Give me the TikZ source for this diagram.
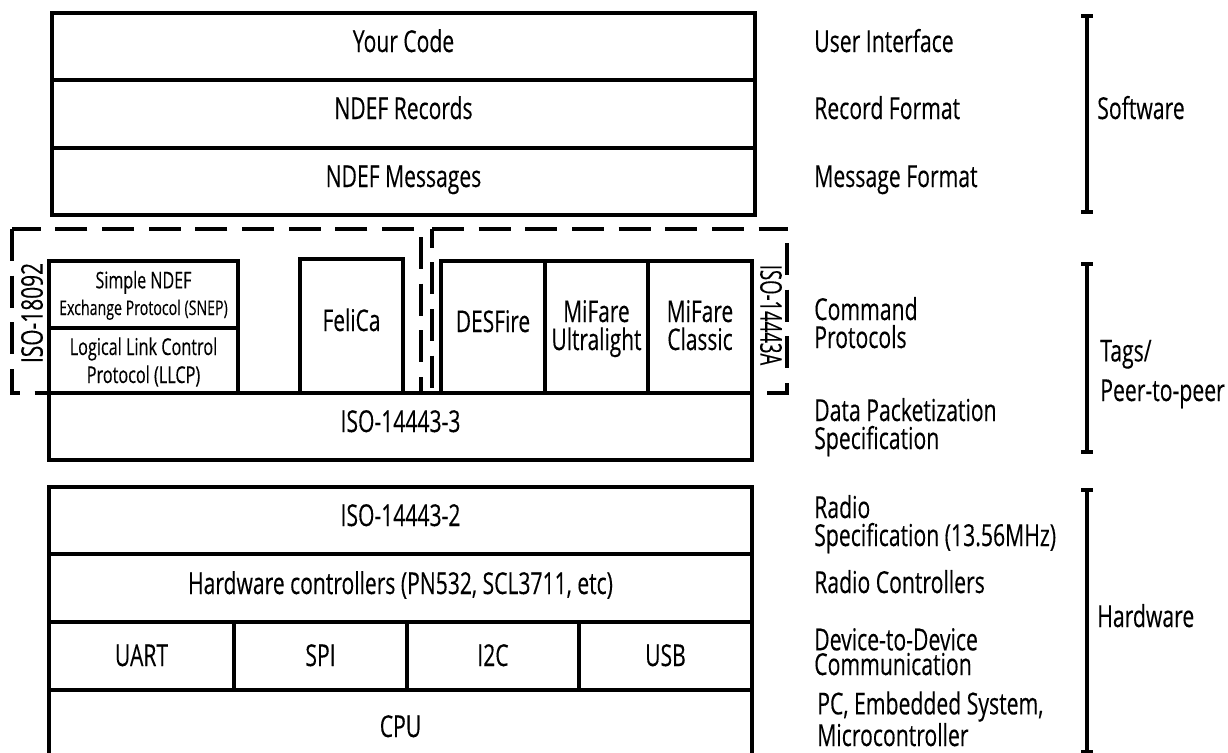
\documentclass[tikz,border=0pt]{standalone}
\usepackage{fontspec}
\setmainfont[FakeStretch=0.70,FakeBold=0.25]{Open Sans}
\newfontfamily\narrowfam[FakeStretch=0.62,FakeBold=0.25]{Open Sans}
\newcommand{\bigfs}{\fontsize{22.6}{21}\selectfont}
\newcommand{\midfs}{\fontsize{22.4}{21}\selectfont}
\newcommand{\sidefs}{\fontsize{22.7}{21}\selectfont}
\newcommand{\fsz}[1]{\fontsize{#1}{20}\selectfont}
\tikzset{
  x=0.75pt, y=-0.75pt,
  boxstyle/.style={draw=black, line width=2.3pt, fill=white, inner sep=0pt, align=center, font=\bigfs},
  sidelabel/.style={anchor=base west, inner sep=0pt, align=left, font=\sidefs},
  dashline/.style={line width=2.5pt, dash pattern=on 24pt off 11pt},
  brack/.style={line width=2.3pt}
}
% name, x1, y1, x2, y2, baseline of last text line, options, text
\newcommand{\bx}[8]{%
  \pgfmathsetmacro{\bw}{(#4-#2)*0.75}%
  \pgfmathsetmacro{\bh}{(#5-#3)*0.75}%
  \pgfmathsetmacro{\bt}{(#6-(#3+#5)/2)*1.5}%
  \node[boxstyle, minimum width=\bw pt, minimum height=\bh pt, text height=\bt pt, text depth=0pt, #7] (#1) at ({(#2+#4)/2},{(#3+#5)/2}) {#8};}
\begin{document}
\begin{tikzpicture}
\useasboundingbox (0,0) rectangle (1228,753);
\clip (0,0) rectangle (1228,753);
% upper stack
\bx{code}{52}{13}{755}{80}{52}{}{Your Code}
\bx{records}{52}{80}{755}{148}{119}{}{NDEF Records}
\bx{messages}{52}{148}{755}{215}{187}{}{NDEF Messages}
% dashed groups
\draw[dashline] (414,229) -- (12,229);
\draw[dashline] (12,229) -- (12,393) -- (49,393);
\draw[dashline] (421,237) -- (421,393);
\draw[dashline, dash phase=10pt] (432,229) -- (432,393);
\draw[dashline] (432,229) -- (788,229);
\draw[dashline] (787,243) -- (787,393) -- (767,393);
% middle stack
\bx{snep}{49}{261}{238}{328}{315}{font=\fsz{17}}{{\fsz{17.2}Simple NDEF}\\{\fsz{15.2}Exchange Protocol (SNEP)}}
\bx{llcp}{49}{328}{238}{393}{383}{font=\fsz{17.4}}{Logical Link Control\\[1pt]Protocol (LLCP)}
\bx{felica}{300}{259}{403}{393}{331}{font=\midfs}{FeliCa}
\bx{desfire}{441}{261}{545}{393}{332}{font=\midfs}{DESFire}
\bx{ultralight}{545}{261}{648}{393}{350}{font=\midfs}{MiFare\\Ultralight}
\bx{classic}{648}{261}{752}{393}{350}{font=\midfs}{MiFare\\Classic}
\bx{iso3}{49}{393}{752}{460}{432}{}{ISO-14443-3}
\node[font=\midfs, rotate=90, inner sep=0pt] (iso18092) at (32,313) {ISO-18092};
\node[font={\midfs\narrowfam}, rotate=-90, inner sep=0pt] (iso14443a) at (771,315) {ISO-14443A};
% lower stack
\bx{iso2}{49}{487}{752}{554}{526}{}{ISO-14443-2}
\bx{hw}{49}{554}{752}{622}{594}{}{Hardware controllers (PN532, SCL3711, etc)}
\bx{uart}{49}{622}{234}{690}{666}{}{UART}
\bx{spi}{234}{622}{407}{690}{666}{}{SPI}
\bx{iic}{407}{622}{579}{690}{666}{}{I2C}
\bx{usb}{579}{622}{752}{690}{666}{}{USB}
\bx{cpu}{49}{690}{752}{757}{737}{}{CPU}
% side labels
\node[sidelabel] (l1) at (814,52) {User Interface};
\node[sidelabel] (l2) at (814,119) {Record Format};
\node[sidelabel] (l3) at (814,187) {Message Format};
\node[sidelabel] (l4) at (814,348) {Command\\Protocols};
\node[sidelabel] (l5) at (814,449) {Data Packetization\\Specification};
\node[sidelabel] (l6) at (814,546) {Radio\\Specification (13.56MHz)};
\node[sidelabel] (l7) at (814,593) {Radio Controllers};
\node[sidelabel] (l8) at (814,675) {Device-to-Device\\[-2.5pt]Communication};
\node[sidelabel] (l9) at (817,746) {PC, Embedded System,\\Microcontroller};
% brackets
\coordinate (s1) at (1087,16); \coordinate (s2) at (1087,212);
\coordinate (t1) at (1087,264); \coordinate (t2) at (1087,452);
\coordinate (h1) at (1087,490); \coordinate (h2) at (1087,752);
\foreach \a/\b in {s1/s2,t1/t2,h1/h2}{
  \draw[brack] (\a) -- (\b);
  \draw[brack] ([xshift=-4.5pt]\a) -- ([xshift=4.5pt]\a);
  \draw[brack] ([xshift=-4.5pt]\b) -- ([xshift=4.5pt]\b);
}
\node[sidelabel] (g1) at (1097,119) {Software};
\node[sidelabel, align=left] (g2) at (1100,401) {Tags/\\[7pt]Peer-to-peer};
\node[sidelabel] (g3) at (1097,627) {Hardware};
\end{tikzpicture}
\end{document}
